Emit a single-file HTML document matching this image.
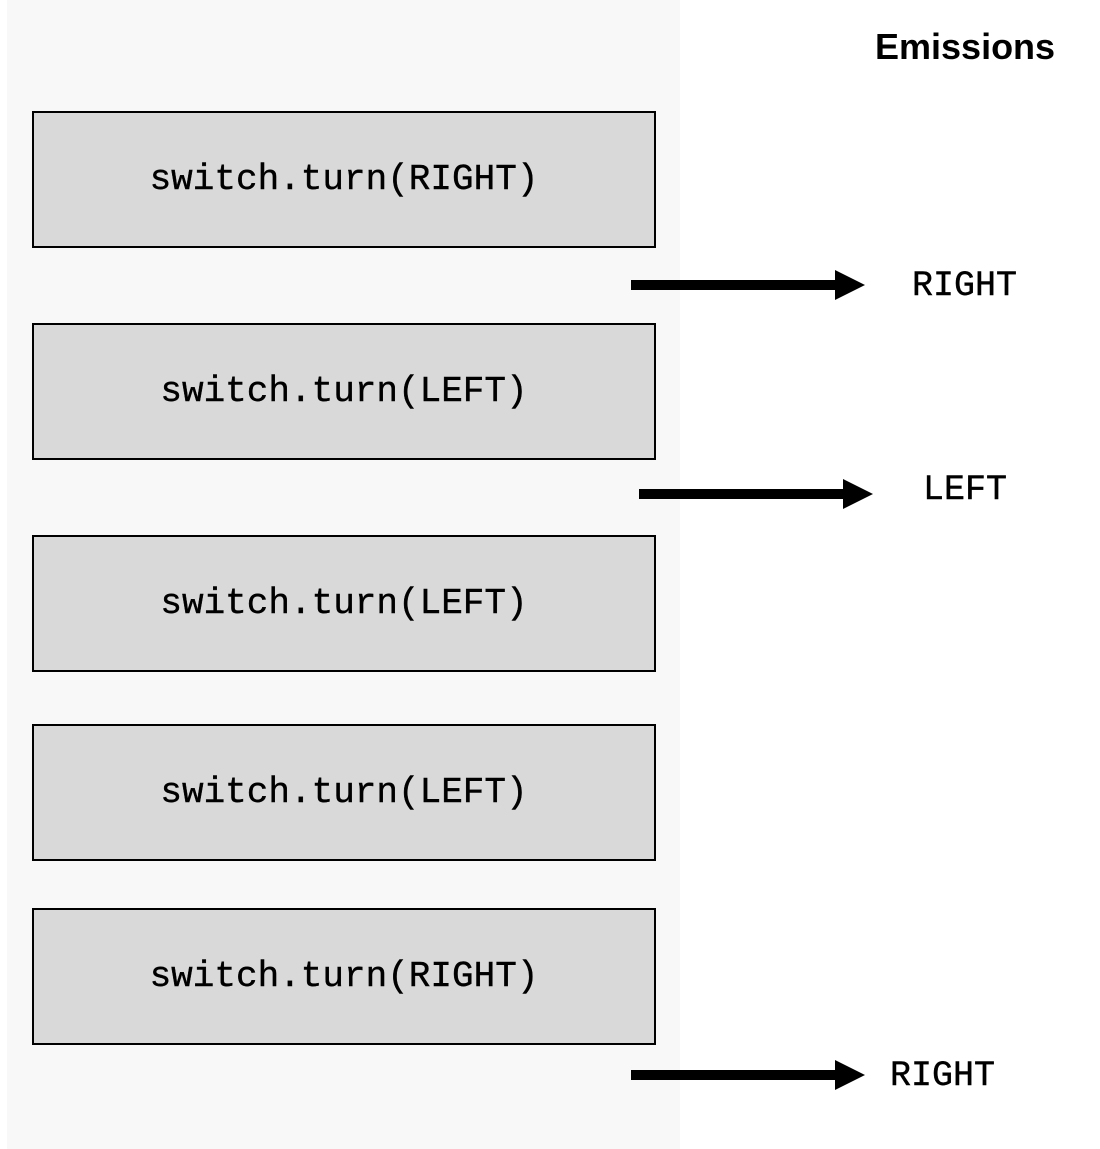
<!DOCTYPE html>
<html><head><meta charset="utf-8"><style>
html,body{margin:0;padding:0;width:1100px;height:1149px;background:#fff;overflow:hidden;position:relative}
.panel{position:absolute;left:7px;top:0;width:673px;height:1149px;background:#f8f8f8}
.box{position:absolute;left:32px;width:620px;height:133px;border:2px solid #000;background:#d9d9d9;display:flex;align-items:center;justify-content:center;font-family:"Liberation Mono",monospace;font-size:36px;color:#000;-webkit-text-stroke:0.4px #000}
.lbl{position:absolute;font-family:"Liberation Mono",monospace;font-size:35px;line-height:40px;color:#000;-webkit-text-stroke:0.4px #000}
.h{position:absolute;left:875px;top:26px;font-family:"Liberation Sans",sans-serif;font-weight:bold;font-size:36px;line-height:42px;color:#000}
svg{position:absolute;left:0;top:0}
</style></head><body>
<div class="panel"></div>
<div class="h">Emissions</div>
<div class="box" style="top:111px">switch.turn(RIGHT)</div>
<div class="box" style="top:323px">switch.turn(LEFT)</div>
<div class="box" style="top:535px">switch.turn(LEFT)</div>
<div class="box" style="top:724px">switch.turn(LEFT)</div>
<div class="box" style="top:908px">switch.turn(RIGHT)</div>
<svg width="1100" height="1149">
<rect x="631" y="280" width="206" height="10" fill="#000"/><polygon points="835,270 865,285 835,300" fill="#000"/>
<rect x="639" y="489" width="206" height="10" fill="#000"/><polygon points="843,479 873,494 843,509" fill="#000"/>
<rect x="631" y="1070" width="206" height="10" fill="#000"/><polygon points="835,1060 865,1075 835,1090" fill="#000"/>
</svg>
<div class="lbl" style="left:912px;top:266px">RIGHT</div>
<div class="lbl" style="left:923px;top:470px">LEFT</div>
<div class="lbl" style="left:890px;top:1056px">RIGHT</div>
</body></html>
